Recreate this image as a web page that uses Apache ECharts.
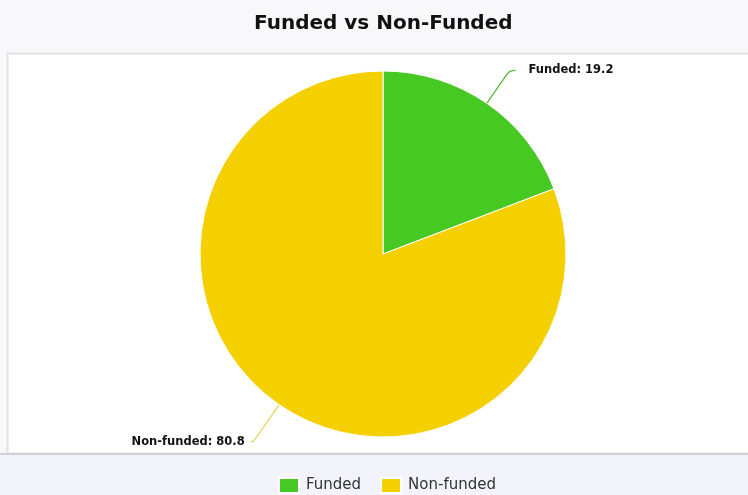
<!DOCTYPE html>
<html><head><meta charset="utf-8">
<script src="https://cdn.jsdelivr.net/npm/echarts@6/dist/echarts.min.js"></script>
<style>html,body{margin:0;padding:0;background:#f8f8fb}#c{width:748px;height:495px}</style>
</head><body><div id="c"></div>
<script>
const titleText = 'Funded vs Non-Funded';
const categories = ['Funded', 'Non-funded'];
const values = [19.2, 80.8];
const colors = ['#46c922', '#f4d000'];
const lineColors = ['#5cb83a', '#e8d660'];

const chart = echarts.init(document.getElementById('c'));
chart.setOption({
  backgroundColor: '#f8f8fb',
  animation: false,
  title: {
    text: titleText, left: 249, top: 9,
    textStyle: {fontFamily: 'DejaVu Sans', fontWeight: 'bold', fontSize: 20, color: '#111'}
  },
  graphic: [
    {type: 'rect', shape: {x: 7.5, y: 53.5, width: 745, height: 400}, style: {fill: '#fff', stroke: '#e2e2e2', lineWidth: 2}, z: -10},
    {type: 'rect', shape: {x: 0, y: 455, width: 748, height: 40}, style: {fill: '#f3f3fc'}, z: -10},
    {type: 'rect', shape: {x: 0, y: 453, width: 748, height: 2}, style: {fill: '#cfcfd4'}, z: -9}
  ],
  legend: {
    top: 477, left: 278, padding: 0, itemWidth: 20, itemHeight: 15, itemGap: 19,
    icon: 'rect',
    textStyle: {fontFamily: 'DejaVu Sans', fontSize: 15, color: '#333', padding: [0, 0, 0, 2]},
    data: categories
  },
  series: [{
    type: 'pie',
    center: [383, 254], radius: 183,
    startAngle: 90, clockwise: true,
    itemStyle: {borderColor: '#fff', borderWidth: 1},
    label: {
      formatter: '{b}: {c}',
      fontFamily: 'DejaVu Sans', fontWeight: 'bold', fontSize: 11.5, color: '#111'
    },
    labelLine: {length: 40, length2: 6, smooth: 0.4, lineStyle: {width: 1.3}},
    data: categories.map((n, i) => ({
      name: n, value: values[i], itemStyle: {color: colors[i]},
      label: {padding: i === 0 ? [0, 0, 3, 8] : [0, 1, 0, 0]},
      labelLine: i === 0 ? {lineStyle: {color: lineColors[i]}} : {length: 45, length2: 3, lineStyle: {color: lineColors[i]}}
    }))
  }]
});
</script></body></html>
